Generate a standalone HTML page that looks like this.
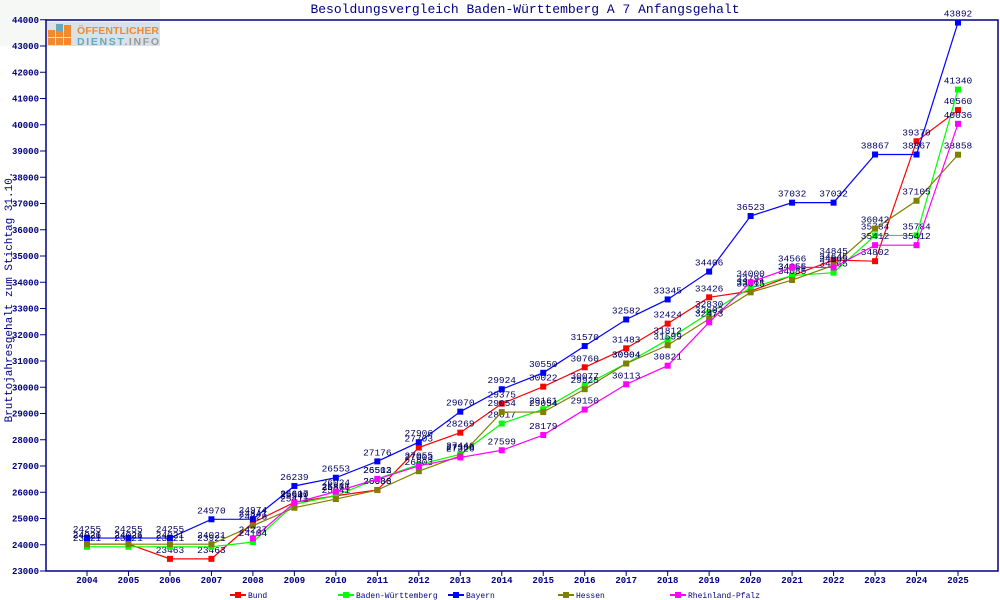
<!DOCTYPE html><html><head><meta charset="utf-8"><style>body{margin:0;background:#fff}svg{display:block}text{font-family:"Liberation Mono","DejaVu Sans Mono",monospace}</style></head><body>
<svg id="s" width="1000" height="600" xmlns="http://www.w3.org/2000/svg">
<rect x="0" y="0" width="160" height="46" fill="#f6f8f6"/>
<rect x="47" y="22" width="113" height="24" fill="#d8e2e8"/>
<rect x="48" y="30" width="7" height="7" fill="#f08a30"/><rect x="56" y="30" width="7" height="7" fill="#f08a30"/><rect x="64" y="25" width="7" height="12" fill="#f08a30"/>
<rect x="48" y="38" width="7" height="7" fill="#f08a30"/><rect x="56" y="38" width="7" height="7" fill="#f08a30"/><rect x="64" y="38" width="7" height="7" fill="#f08a30"/>
<rect x="56" y="24" width="7" height="7" fill="#6aa8b8"/>
<text x="77" y="34" font-weight="bold" font-size="10.5" fill="#f08a30" style="font-family:'Liberation Sans'" textLength="82">ÖFFENTLICHER</text>
<text x="77" y="45" font-weight="bold" font-size="10.5" fill="#6aa8b8" style="font-family:'Liberation Sans'" textLength="82">DIENST<tspan fill="#999">.INFO</tspan></text>
<text x="525" y="13" text-anchor="middle" font-size="13" fill="#000080">Besoldungsvergleich Baden-Württemberg A 7 Anfangsgehalt</text>
<text transform="translate(12,297) rotate(-90)" text-anchor="middle" font-size="11" fill="#000080">Bruttojahresgehalt zum Stichtag 31.10.</text>
<rect x="46" y="20" width="952" height="551" fill="none" stroke="#000080" stroke-width="1.5"/>
<g id="g"></g>
</svg>
<script>
var g=document.getElementById('g'),h='';
function X(i){return 87+i*41.476}function Y(v){return 571-(v-23000)*0.02625}
for(var v=23000;v<=44000;v+=1000){var y=Y(v);h+='<line x1="40" x2="46" y1="'+y+'" y2="'+y+'" stroke="#000080"/><text x="39" y="'+(y+3)+'" text-anchor="end" font-size="9" font-weight="bold" fill="#000080">'+v+'</text>';}
for(var i=0;i<22;i++){var x=X(i);h+='<line x1="'+x+'" x2="'+x+'" y1="571" y2="576" stroke="#000080"/><text x="'+x+'" y="583" text-anchor="middle" font-size="9" font-weight="bold" fill="#000080">'+(2004+i)+'</text>';}
var S=[
["Bund","#ff0000",0,[24026,24026,23463,23463,24841,25617,25866,26086,27703,28269,29375,30022,30760,31483,32424,33426,33661,34256,34845,34802,39370,40560],232],
["Baden-Württemberg","#00ff00",0,[23921,23921,23921,23921,24104,25541,25871,26512,27055,27446,28617,29161,30077,30904,31812,32830,33791,34255,34365,35784,35784,41340],340],
["Bayern","#0000ff",0,[24255,24255,24255,24970,24974,26239,26553,27176,27906,29070,29924,30550,31570,32582,33345,34406,36523,37032,37032,38867,38867,43892],450],
["Hessen","#808000",0,[24021,24021,24021,24021,24728,25411,25741,26083,26803,27386,29054,29054,29925,30904,31599,32603,33615,34085,34645,36042,37105,38858],560],
["Rheinland-Pfalz","#ff00ff",4,[24237,25600,26024,26503,27003,27326,27599,28179,29150,30113,30821,32473,34000,34566,34565,35412,35412,40036],672]];
S.forEach(function(s){var p=[];s[3].forEach(function(v,j){p.push(X(j+s[2])+','+Y(v))});
h+='<polyline points="'+p.join(' ')+'" fill="none" stroke="'+s[1]+'" stroke-width="1.2"/>';
s[3].forEach(function(v,j){var x=X(j+s[2]),y=Y(v);h+='<rect x="'+(x-3)+'" y="'+(y-3)+'" width="6" height="6" fill="'+s[1]+'"/><text x="'+x+'" y="'+(y-6)+'" text-anchor="middle" font-size="9.5" fill="#000060">'+v+'</text>';});
h+='<line x1="'+(s[4]-2)+'" x2="'+(s[4]+14)+'" y1="595" y2="595" stroke="'+s[1]+'" stroke-width="2"/><rect x="'+(s[4]+3)+'" y="592" width="6" height="6" fill="'+s[1]+'"/><text x="'+(s[4]+16)+'" y="598" font-size="8" fill="#000080">'+s[0]+'</text>';});
g.innerHTML=h;
</script></body></html>
